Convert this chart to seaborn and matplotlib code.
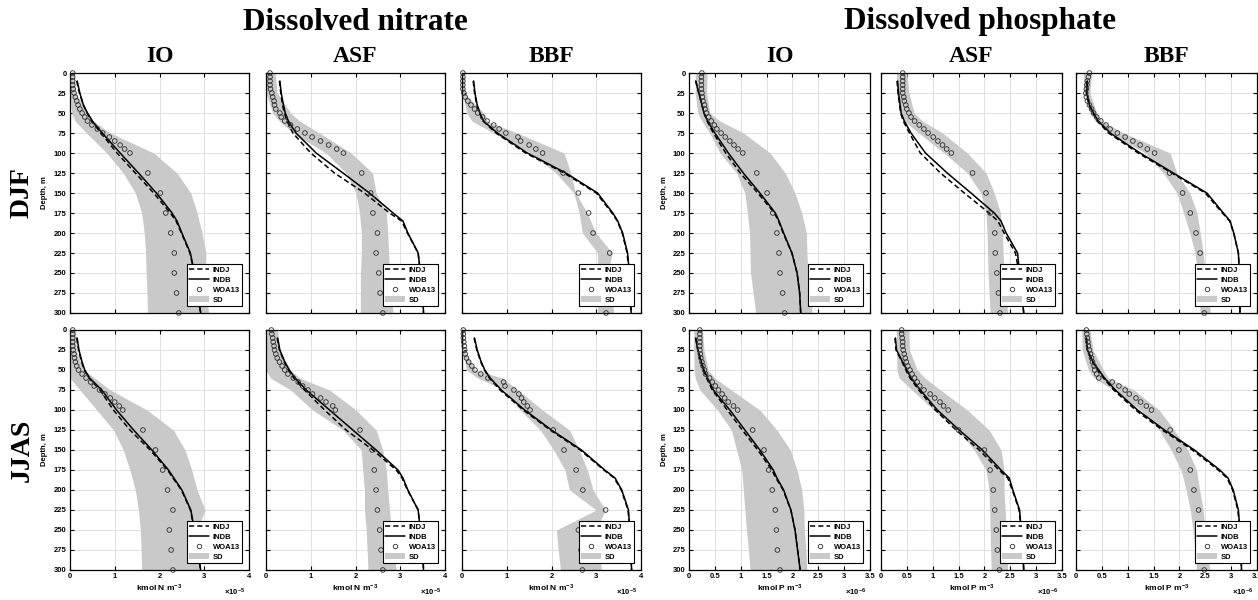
import numpy as np
import pandas as pd
import matplotlib
matplotlib.use("Agg")
import matplotlib.pyplot as plt
import seaborn as sns
from matplotlib.lines import Line2D
from matplotlib.patches import Patch
from matplotlib.ticker import FuncFormatter

# ---------------- depth coordinates ----------------
WOA_DEPTH = [0, 5, 10, 15, 20, 25, 30, 35, 40, 45, 50, 55, 60, 65, 70, 75, 80, 85, 90, 95, 100,
             125, 150, 175, 200, 225, 250, 275, 300]
MODEL_DEPTH = [10, 25, 40, 50, 60, 75, 100, 125, 150, 175, 185, 200, 225, 250, 275, 300]
SD_DEPTH = [0, 25, 50, 60, 75, 100, 125, 150, 175, 200, 225, 250, 275, 300]

REGIONS = ["IO", "ASF", "BBF"]
SEASONS = ["DJF", "JJAS"]
VARIABLES = ["Dissolved nitrate", "Dissolved phosphate"]
LEGEND_LABELS = ["INDJ", "INDB", "WOA13", "SD"]
NO3_TICKS = [0, 1, 2, 3, 4]                    # x 1e-5 kmol N m-3
PO4_TICKS = [0, 0.5, 1, 1.5, 2, 2.5, 3, 3.5]   # x 1e-6 kmol P m-3
DEPTH_TICKS = list(range(0, 301, 25))

# ---------------- nitrate (x 1e-5) ----------------
NO3_DJF_IO_INDB = [0.16, 0.22, 0.30, 0.39, 0.50, 0.72, 1.12, 1.53, 1.93, 2.28, 2.39, 2.50, 2.69, 2.78, 2.85, 2.92]
NO3_DJF_IO_INDJ = [0.15, 0.21, 0.30, 0.38, 0.48, 0.69, 1.05, 1.46, 1.87, 2.24, 2.37, 2.49, 2.68, 2.78, 2.85, 2.92]
NO3_DJF_IO_WOA = [0.06, 0.06, 0.06, 0.06, 0.07, 0.09, 0.12, 0.15, 0.18, 0.22, 0.27, 0.33, 0.39, 0.49, 0.61,
                  0.73, 0.88, 1.00, 1.12, 1.22, 1.34, 1.74, 2.02, 2.14, 2.25, 2.33, 2.33, 2.38, 2.43]
NO3_DJF_IO_SDLO = [0, 0, 0.04, 0.11, 0.37, 0.82, 1.19, 1.46, 1.60, 1.66, 1.69, 1.70, 1.72, 1.73]
NO3_DJF_IO_SDHI = [0.10, 0.12, 0.41, 0.52, 0.90, 1.87, 2.39, 2.70, 2.84, 2.95, 3.04, 3.02, 3.04, 3.10]

NO3_DJF_ASF_INDB = [0.31, 0.34, 0.39, 0.43, 0.50, 0.67, 1.12, 1.72, 2.31, 2.84, 3.06, 3.17, 3.40, 3.45, 3.50, 3.52]
NO3_DJF_ASF_INDJ = [0.30, 0.33, 0.37, 0.41, 0.47, 0.60, 1.00, 1.53, 2.20, 2.76, 3.03, 3.16, 3.40, 3.45, 3.50, 3.52]
NO3_DJF_ASF_WOA = [0.09, 0.09, 0.09, 0.09, 0.10, 0.13, 0.15, 0.18, 0.19, 0.22, 0.31, 0.34, 0.42, 0.55, 0.70,
                   0.87, 1.03, 1.22, 1.40, 1.58, 1.73, 2.14, 2.34, 2.39, 2.49, 2.46, 2.52, 2.55, 2.61]
NO3_DJF_ASF_SDLO = [0, 0, 0.15, 0.30, 0.60, 1.34, 1.79, 2.01, 2.09, 2.13, 2.13, 2.11, 2.11, 2.11]
NO3_DJF_ASF_SDHI = [0.20, 0.25, 0.55, 0.75, 1.19, 1.90, 2.38, 2.46, 2.69, 2.72, 2.74, 2.76, 2.80, 2.84]

NO3_DJF_BBF_INDB = [0.26, 0.29, 0.34, 0.40, 0.48, 0.79, 1.46, 2.32, 3.03, 3.37, 3.48, 3.59, 3.70, 3.74, 3.76, 3.78]
NO3_DJF_BBF_INDJ = [0.25, 0.28, 0.33, 0.39, 0.47, 0.76, 1.42, 2.28, 3.00, 3.35, 3.47, 3.58, 3.69, 3.73, 3.76, 3.78]
NO3_DJF_BBF_WOA = [0.02, 0.02, 0.02, 0.02, 0.02, 0.04, 0.07, 0.13, 0.20, 0.28, 0.35, 0.46, 0.56, 0.71, 0.83,
                   0.98, 1.25, 1.31, 1.50, 1.65, 1.80, 2.26, 2.60, 2.83, 2.93, 3.30, 3.20, 3.25, 3.22]
NO3_DJF_BBF_SDLO = [0, 0, 0.11, 0.22, 0.71, 1.53, 2.10, 2.50, 2.62, 2.69, 3.03, 3.03, 3.03, 3.03]
NO3_DJF_BBF_SDHI = [0.04, 0.05, 0.49, 0.56, 1.23, 2.28, 2.43, 2.54, 2.80, 2.99, 3.36, 3.25, 3.30, 3.40]

NO3_JJAS_IO_INDB = [0.16, 0.20, 0.27, 0.33, 0.44, 0.71, 1.04, 1.42, 1.83, 2.20, 2.32, 2.50, 2.70, 2.78, 2.85, 2.92]
NO3_JJAS_IO_INDJ = [0.15, 0.19, 0.26, 0.32, 0.42, 0.67, 0.97, 1.34, 1.79, 2.18, 2.30, 2.49, 2.69, 2.78, 2.85, 2.92]
NO3_JJAS_IO_WOA = [0.06, 0.06, 0.06, 0.06, 0.06, 0.07, 0.09, 0.10, 0.12, 0.15, 0.19, 0.27, 0.36, 0.46, 0.54,
                   0.66, 0.78, 0.90, 1.00, 1.10, 1.18, 1.63, 1.91, 2.07, 2.18, 2.30, 2.22, 2.26, 2.30]
NO3_JJAS_IO_SDLO = [0, 0, 0, 0, 0.22, 0.60, 0.97, 1.19, 1.34, 1.46, 1.53, 1.57, 1.59, 1.60]
NO3_JJAS_IO_SDHI = [0.13, 0.14, 0.30, 0.55, 0.90, 1.72, 2.31, 2.57, 2.72, 2.84, 3.02, 2.84, 2.86, 2.91]

NO3_JJAS_ASF_INDB = [0.26, 0.31, 0.42, 0.52, 0.65, 0.90, 1.42, 1.94, 2.46, 2.95, 3.06, 3.17, 3.40, 3.45, 3.50, 3.52]
NO3_JJAS_ASF_INDJ = [0.25, 0.30, 0.41, 0.50, 0.62, 0.86, 1.31, 1.79, 2.39, 2.91, 3.04, 3.16, 3.40, 3.45, 3.50, 3.52]
NO3_JJAS_ASF_WOA = [0.12, 0.13, 0.15, 0.16, 0.18, 0.19, 0.22, 0.25, 0.30, 0.36, 0.42, 0.49, 0.61, 0.72, 0.82,
                    0.94, 1.04, 1.22, 1.34, 1.49, 1.55, 2.10, 2.37, 2.42, 2.46, 2.49, 2.54, 2.57, 2.61]
NO3_JJAS_ASF_SDLO = [0, 0, 0, 0.10, 0.55, 1.04, 1.72, 2.13, 2.16, 2.20, 2.20, 2.24, 2.26, 2.28]
NO3_JJAS_ASF_SDHI = [0.26, 0.30, 0.55, 0.75, 1.42, 2.01, 2.46, 2.61, 2.69, 2.72, 2.76, 2.80, 2.85, 2.91]

NO3_JJAS_BBF_INDB = [0.28, 0.34, 0.43, 0.51, 0.63, 0.88, 1.40, 2.00, 2.67, 3.19, 3.42, 3.57, 3.72, 3.75, 3.77, 3.79]
NO3_JJAS_BBF_INDJ = [0.27, 0.33, 0.42, 0.50, 0.61, 0.85, 1.37, 1.97, 2.64, 3.17, 3.40, 3.56, 3.71, 3.75, 3.77, 3.79]
NO3_JJAS_BBF_WOA = [0.03, 0.03, 0.03, 0.04, 0.05, 0.06, 0.07, 0.10, 0.15, 0.22, 0.29, 0.42, 0.58, 0.93, 0.96,
                    1.16, 1.27, 1.33, 1.38, 1.46, 1.52, 2.04, 2.28, 2.55, 2.70, 3.21, 2.60, 2.66, 2.69]
NO3_JJAS_BBF_SDLO = [0, 0, 0.10, 0.35, 0.95, 1.30, 1.75, 2.05, 2.30, 2.40, 3.00, 2.11, 2.15, 2.20]
NO3_JJAS_BBF_SDHI = [0.03, 0.04, 0.30, 0.90, 1.25, 1.80, 2.40, 2.62, 2.80, 2.93, 3.20, 3.00, 3.05, 3.12]

# ---------------- phosphate (x 1e-6) ----------------
PO4_DJF_IO_INDB = [0.13, 0.19, 0.25, 0.29, 0.36, 0.50, 0.76, 1.05, 1.37, 1.67, 1.74, 1.83, 1.99, 2.09, 2.14, 2.16]
PO4_DJF_IO_INDJ = [0.13, 0.19, 0.25, 0.29, 0.35, 0.47, 0.71, 0.99, 1.33, 1.65, 1.73, 1.82, 1.99, 2.09, 2.14, 2.16]
PO4_DJF_IO_WOA = [0.25, 0.24, 0.24, 0.24, 0.24, 0.25, 0.26, 0.27, 0.30, 0.31, 0.34, 0.38, 0.43, 0.49, 0.54,
                  0.62, 0.70, 0.79, 0.87, 0.95, 1.04, 1.31, 1.51, 1.62, 1.70, 1.74, 1.76, 1.81, 1.85]
PO4_DJF_IO_SDLO = [0.12, 0.12, 0.17, 0.25, 0.40, 0.60, 0.92, 1.08, 1.13, 1.17, 1.18, 1.19, 1.24, 1.29]
PO4_DJF_IO_SDHI = [0.35, 0.34, 0.40, 0.60, 1.05, 1.57, 1.86, 2.05, 2.18, 2.27, 2.28, 2.30, 2.34, 2.38]

PO4_DJF_ASF_INDB = [0.32, 0.34, 0.37, 0.39, 0.45, 0.58, 0.86, 1.28, 1.74, 2.19, 2.32, 2.42, 2.64, 2.68, 2.72, 2.76]
PO4_DJF_ASF_INDJ = [0.31, 0.33, 0.36, 0.38, 0.43, 0.55, 0.76, 1.15, 1.61, 2.09, 2.26, 2.38, 2.60, 2.67, 2.72, 2.76]
PO4_DJF_ASF_WOA = [0.42, 0.42, 0.42, 0.42, 0.42, 0.42, 0.44, 0.45, 0.48, 0.50, 0.54, 0.58, 0.65, 0.74, 0.83,
                   0.91, 1.01, 1.10, 1.19, 1.27, 1.36, 1.77, 2.03, 2.11, 2.20, 2.21, 2.24, 2.27, 2.30]
PO4_DJF_ASF_SDLO = [0.30, 0.30, 0.36, 0.45, 0.73, 1.22, 1.67, 1.93, 2.03, 2.05, 2.06, 2.07, 2.09, 2.11]
PO4_DJF_ASF_SDHI = [0.50, 0.54, 0.64, 0.80, 1.19, 1.67, 2.03, 2.19, 2.31, 2.35, 2.36, 2.38, 2.42, 2.45]

PO4_DJF_BBF_INDB = [0.22, 0.21, 0.26, 0.34, 0.43, 0.66, 1.24, 1.88, 2.53, 2.85, 2.98, 3.05, 3.14, 3.16, 3.17, 3.17]
PO4_DJF_BBF_INDJ = [0.21, 0.20, 0.25, 0.33, 0.41, 0.63, 1.20, 1.85, 2.50, 2.83, 2.97, 3.05, 3.14, 3.16, 3.17, 3.17]
PO4_DJF_BBF_WOA = [0.26, 0.24, 0.22, 0.21, 0.20, 0.19, 0.20, 0.22, 0.26, 0.30, 0.34, 0.40, 0.48, 0.58, 0.66,
                   0.80, 0.95, 1.10, 1.24, 1.38, 1.52, 1.81, 2.06, 2.21, 2.32, 2.40, 2.45, 2.47, 2.48]
PO4_DJF_BBF_SDLO = [0.14, 0.16, 0.27, 0.37, 0.66, 1.34, 1.69, 1.95, 2.08, 2.20, 2.30, 2.35, 2.38, 2.40]
PO4_DJF_BBF_SDHI = [0.30, 0.27, 0.40, 0.50, 0.92, 1.82, 1.95, 2.20, 2.34, 2.40, 2.46, 2.50, 2.55, 2.60]

PO4_JJAS_IO_INDB = [0.13, 0.17, 0.24, 0.29, 0.36, 0.47, 0.79, 1.08, 1.37, 1.63, 1.70, 1.83, 1.97, 2.05, 2.10, 2.15]
PO4_JJAS_IO_INDJ = [0.13, 0.17, 0.23, 0.28, 0.34, 0.45, 0.74, 1.03, 1.33, 1.60, 1.68, 1.82, 1.97, 2.05, 2.10, 2.15]
PO4_JJAS_IO_WOA = [0.21, 0.21, 0.21, 0.21, 0.21, 0.21, 0.22, 0.23, 0.25, 0.27, 0.30, 0.32, 0.40, 0.45, 0.51,
                   0.57, 0.64, 0.69, 0.76, 0.86, 0.94, 1.23, 1.45, 1.54, 1.61, 1.67, 1.69, 1.71, 1.76]
PO4_JJAS_IO_SDLO = [0.09, 0.09, 0.10, 0.12, 0.21, 0.55, 0.82, 0.92, 1.02, 1.05, 1.08, 1.11, 1.15, 1.18]
PO4_JJAS_IO_SDHI = [0.26, 0.29, 0.37, 0.50, 0.82, 1.37, 1.70, 1.96, 2.09, 2.18, 2.22, 2.23, 2.26, 2.28]

PO4_JJAS_ASF_INDB = [0.28, 0.30, 0.42, 0.50, 0.58, 0.76, 1.09, 1.51, 1.96, 2.32, 2.48, 2.55, 2.68, 2.71, 2.74, 2.76]
PO4_JJAS_ASF_INDJ = [0.27, 0.29, 0.41, 0.48, 0.56, 0.73, 1.05, 1.45, 1.90, 2.28, 2.45, 2.54, 2.67, 2.71, 2.74, 2.76]
PO4_JJAS_ASF_WOA = [0.40, 0.40, 0.41, 0.42, 0.42, 0.43, 0.45, 0.47, 0.49, 0.52, 0.56, 0.60, 0.65, 0.70, 0.75,
                    0.83, 0.95, 1.04, 1.14, 1.21, 1.30, 1.50, 2.00, 2.11, 2.17, 2.20, 2.23, 2.25, 2.29]
PO4_JJAS_ASF_SDLO = [0.30, 0.30, 0.31, 0.35, 0.60, 1.02, 1.48, 1.80, 2.03, 2.09, 2.10, 2.11, 2.12, 2.13]
PO4_JJAS_ASF_SDHI = [0.54, 0.55, 0.70, 0.85, 1.15, 1.67, 2.09, 2.32, 2.38, 2.38, 2.40, 2.42, 2.44, 2.45]

PO4_JJAS_BBF_INDB = [0.20, 0.22, 0.33, 0.44, 0.55, 0.76, 1.19, 1.71, 2.29, 2.78, 2.94, 3.04, 3.14, 3.17, 3.19, 3.20]
PO4_JJAS_BBF_INDJ = [0.20, 0.22, 0.32, 0.42, 0.53, 0.73, 1.15, 1.67, 2.25, 2.75, 2.92, 3.03, 3.13, 3.17, 3.19, 3.20]
PO4_JJAS_BBF_WOA = [0.20, 0.21, 0.22, 0.23, 0.24, 0.26, 0.28, 0.30, 0.32, 0.35, 0.36, 0.40, 0.44, 0.70, 0.83,
                    0.95, 1.03, 1.16, 1.25, 1.36, 1.46, 1.82, 1.99, 2.21, 2.28, 2.37, 2.42, 2.45, 2.48]
PO4_JJAS_BBF_SDLO = [0.11, 0.12, 0.24, 0.35, 0.73, 1.25, 1.61, 1.84, 2.03, 2.13, 2.21, 2.26, 2.30, 2.33]
PO4_JJAS_BBF_SDHI = [0.27, 0.33, 0.53, 0.62, 1.12, 1.61, 1.90, 2.16, 2.33, 2.39, 2.46, 2.49, 2.53, 2.59]

# ---------------- assemble (lookup only) ----------------
G = globals()
def series(var, season, region, kind):
    return G[f"{var}_{season}_{region}_{kind}"]

# ---------------- style ----------------
sns.set_style("ticks")
plt.rcParams["font.family"] = ["Liberation Sans", "DejaVu Sans"]
plt.rcParams["font.weight"] = "bold"
plt.rcParams["axes.labelweight"] = "bold"
plt.rcParams["mathtext.default"] = "regular"
for k in ["text.color", "axes.labelcolor", "xtick.color", "ytick.color", "axes.edgecolor"]:
    plt.rcParams[k] = "black"

SD_COLOR = "#c9c9c9"
GRID_COLOR = "#e0e0e0"
W, H = 1258, 600
fig = plt.figure(figsize=(W / 100, H / 100), dpi=100)

col_left = [70, 266, 462, 689, 881, 1076]
col_width = [179, 179, 179, 181, 181, 181]
row_top = [73, 330]
row_h = 240

dash = (0, (3.4, 2.0))

for vi, var in enumerate(["NO3", "PO4"]):
    for si, season in enumerate(SEASONS):
        for ri, region in enumerate(REGIONS):
            ci = vi * 3 + ri
            l = col_left[ci] / W
            b = 1 - (row_top[si] + row_h) / H
            ax = fig.add_axes([l, b, col_width[ci] / W, row_h / H])

            ax.fill_betweenx(SD_DEPTH, series(var, season, region, "SDLO"),
                             series(var, season, region, "SDHI"),
                             color=SD_COLOR, lw=0, zorder=1)
            sns.lineplot(x=series(var, season, region, "INDJ"), y=MODEL_DEPTH, ax=ax,
                         orient="y", sort=False, estimator=None, color="black",
                         lw=1.1, linestyle=dash, zorder=3)
            sns.lineplot(x=series(var, season, region, "INDB"), y=MODEL_DEPTH, ax=ax,
                         orient="y", sort=False, estimator=None, color="black",
                         lw=1.1, zorder=3)
            sns.scatterplot(x=series(var, season, region, "WOA"), y=WOA_DEPTH, ax=ax,
                            marker="o", s=11, facecolor="none", edgecolor="#2a2a2a",
                            linewidth=0.6, zorder=4, clip_on=False)

            ticks = NO3_TICKS if var == "NO3" else PO4_TICKS
            ax.set_xlim(ticks[0], ticks[-1])
            ax.set_ylim(300, 0)
            ax.set_xticks(ticks)
            ax.set_yticks(DEPTH_TICKS)
            ax.xaxis.set_major_formatter(FuncFormatter(lambda v, p: f"{v:g}"))
            ax.grid(True, color=GRID_COLOR, lw=0.7)
            ax.set_axisbelow(True)
            ax.tick_params(direction="in", top=True, right=True, length=3, width=0.8,
                           labelsize=5.5, pad=2.5, colors="black")
            for sp in ax.spines.values():
                sp.set_linewidth(0.9)
                sp.set_color("black")
                sp.set_visible(True)
            ax.set_xlabel("")
            ax.set_ylabel("")

            if ri != 0:
                ax.tick_params(labelleft=False)
            else:
                ax.text(-25 / col_width[ci], 0.5, "Depth, m", transform=ax.transAxes,
                        rotation=90, ha="center", va="center", fontsize=5.5)
            if si == 0:
                ax.tick_params(labelbottom=False)
            else:
                unit = "kmol N m$^{-3}$" if var == "NO3" else "kmol P m$^{-3}$"
                ax.text(0.5, -18 / row_h, unit, transform=ax.transAxes,
                        ha="center", va="center", fontsize=6)
                off = r"$\times$10$^{-5}$" if var == "NO3" else r"$\times$10$^{-6}$"
                ax.text(0.98, -22 / row_h, off, transform=ax.transAxes,
                        ha="right", va="center", fontsize=5.5)

            handles = [Line2D([], [], color="black", lw=1.1, linestyle=dash),
                       Line2D([], [], color="black", lw=1.1),
                       Line2D([], [], color="#2a2a2a", lw=0, marker="o", ms=3.2,
                              mfc="none", mew=0.6),
                       Patch(facecolor=SD_COLOR, edgecolor="none")]
            leg = ax.legend(handles, LEGEND_LABELS, loc="lower right",
                            prop={"size": 5.5, "weight": "bold"},
                            frameon=True, fancybox=False, framealpha=1,
                            edgecolor="black", borderpad=0.3, labelspacing=0.35,
                            handlelength=2.6, handletextpad=0.45, borderaxespad=0.9)
            leg.get_frame().set_linewidth(0.8)
            leg.set_zorder(10)

            if si == 0:
                fig.text((col_left[ci] + col_width[ci] / 2) / W, 1 - 57 / H, region,
                         ha="center", va="center", fontsize=17, weight="bold",
                         family="Liberation Serif")

fig.text(355 / W, 1 - 22 / H, VARIABLES[0], ha="center", va="center",
         fontsize=22.5, weight="bold", family="Liberation Serif")
fig.text(980 / W, 1 - 22 / H, VARIABLES[1], ha="center", va="center",
         fontsize=22.5, weight="bold", family="Liberation Serif")
for si, season in enumerate(SEASONS):
    fig.text(22 / W, 1 - (row_top[si] + row_h / 2) / H, season, rotation=90,
             ha="center", va="center", fontsize=20, weight="bold",
             family="Liberation Serif")

fig.savefig("out.png", dpi=100)
